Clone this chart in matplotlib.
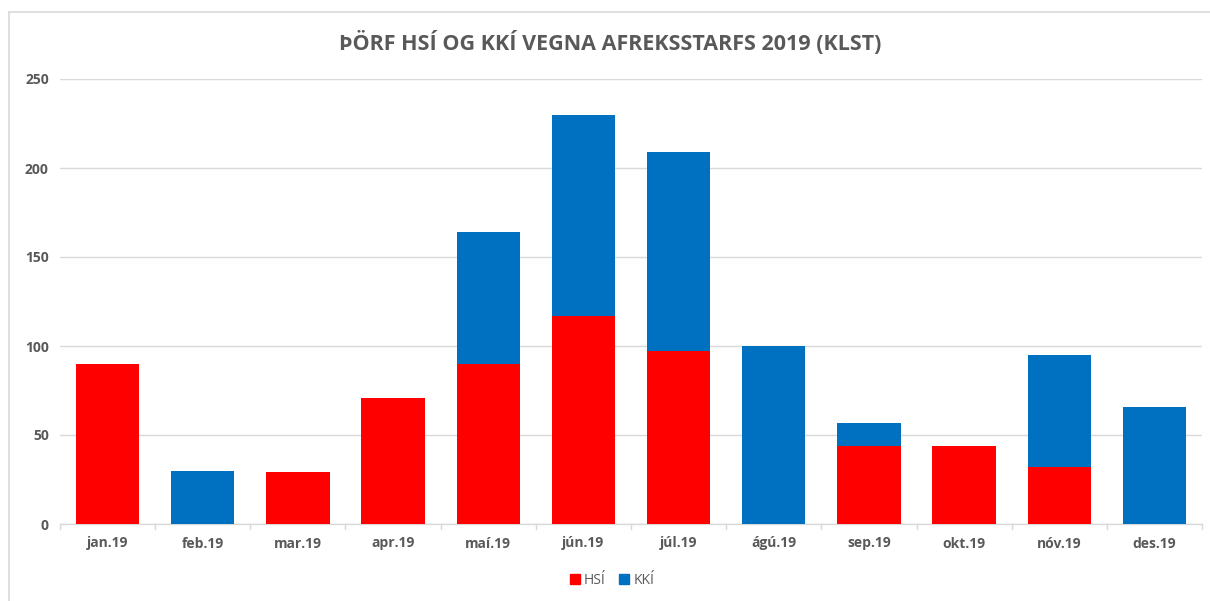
import matplotlib
matplotlib.use("Agg")
import matplotlib.pyplot as plt
from matplotlib.lines import Line2D
from matplotlib.patches import Patch
import numpy as np

months = ["jan.19", "feb.19", "mar.19", "apr.19", "maí.19", "jún.19",
          "júl.19", "ágú.19", "sep.19", "okt.19", "nóv.19", "des.19"]
hsi = [90, 0, 29, 71, 90, 117, 97, 0, 44, 44, 32, 0]
kki = [0, 30, 0, 0, 74, 113, 112, 100, 13, 0, 63, 66]
series_names = ["HSÍ", "KKÍ"]
title = "ÞÖRF HSÍ OG KKÍ VEGNA AFREKSSTARFS 2019 (KLST)"
yticks = [0, 50, 100, 150, 200, 250]

red = "#FF0000"
blue = "#0070C0"
gray = "#595959"
font = ["Open Sans", "DejaVu Sans"]

W, H = 1210, 601
fig = plt.figure(figsize=(W / 100, H / 100), dpi=100)
ax = fig.add_axes([60 / W, 1 - 524 / H, (1202 - 60) / W, (524 - 79) / H])

x = np.arange(len(months))
ax.bar(x, hsi, width=0.667, color=red, zorder=3)
ax.bar(x, kki, width=0.667, bottom=hsi, color=blue, zorder=3)

ax.set_xlim(-0.5, len(months) - 0.5)
ax.set_ylim(0, 250)
ax.set_yticks(yticks)
ax.set_yticklabels([str(v) for v in yticks], fontsize=10, fontweight="bold",
                   color=gray, family=font)
ax.set_xticks(x)
ax.set_xticklabels(months, fontsize=10, fontweight="bold", color=gray, family=font)
ax.tick_params(axis="y", length=0, pad=8)
ax.tick_params(axis="x", length=0, pad=9)
# category boundary ticks
for b in np.arange(-0.5, len(months) + 0.5, 1):
    ax.plot([b, b], [0, -3], color="#D9D9D9", lw=1, clip_on=False, zorder=2)

ax.grid(axis="y", color="#D9D9D9", lw=1, zorder=0)
for s in ["top", "right", "left"]:
    ax.spines[s].set_visible(False)
ax.spines["bottom"].set_color("#D9D9D9")
ax.spines["bottom"].set_linewidth(1)

fig.text(610 / W, 1 - 43 / H, title, ha="center", va="center", fontsize=15.5,
         fontweight="bold", color=gray, family=font)

handles = [Patch(facecolor=red, edgecolor=red), Patch(facecolor=blue, edgecolor=blue)]
leg = fig.legend(handles, series_names, loc="center", bbox_to_anchor=(612 / W, 1 - 580 / H),
                 ncol=2, frameon=False, handlelength=0.7, handleheight=0.7,
                 handletextpad=0.3, columnspacing=1.0,
                 prop={"family": font, "size": 10})
for t in leg.get_texts():
    t.set_color(gray)

# chart border
fig.add_artist(Line2D([8.5 / W, 1], [1 - 12 / H, 1 - 12 / H], color="#D9D9D9", lw=1.2))
fig.add_artist(Line2D([8.5 / W, 8.5 / W], [0, 1 - 12 / H], color="#D9D9D9", lw=1.2))

fig.savefig("out.png", dpi=100, facecolor="white")
